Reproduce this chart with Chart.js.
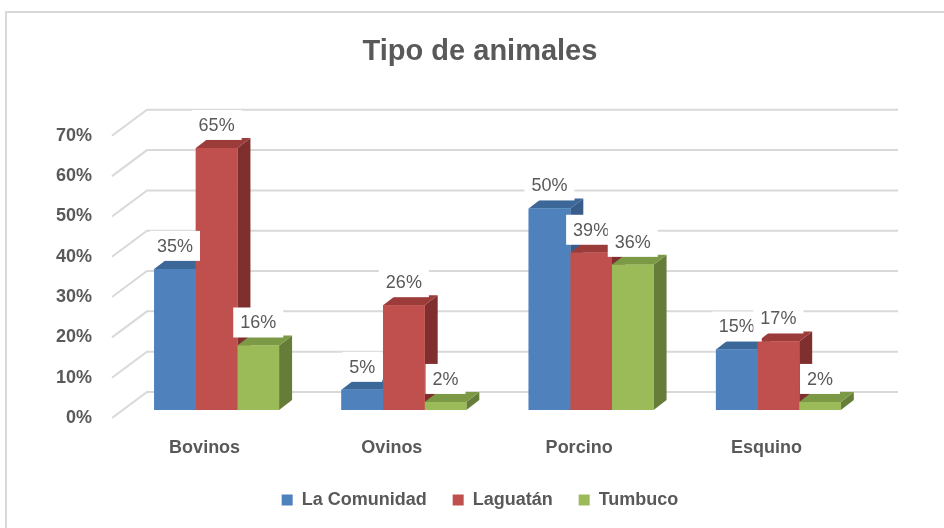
<!DOCTYPE html>
<html lang="es">
<head>
<meta charset="utf-8">
<title>Tipo de animales</title>
<script src="https://cdn.jsdelivr.net/npm/chart.js@4/dist/chart.umd.min.js"></script>
<style>
  html, body { margin: 0; padding: 0; background: #fff; }
  #wrap { position: relative; width: 944px; height: 528px; }
</style>
</head>
<body>
<div id="wrap"><canvas id="grafica" width="944" height="528"></canvas></div>
<script>
const categorias = ['Bovinos', 'Ovinos', 'Porcino', 'Esquino'];
const laComunidad = [35, 5, 50, 15];
const laguatan = [65, 26, 39, 17];
const tumbuco = [16, 2, 36, 2];
const ticksY = [0, 10, 20, 30, 40, 50, 60, 70];

const FUENTE = '"Liberation Sans", Arial, sans-serif';
const GRIS_TEXTO = '#595959';
const GRIS_LINEA = '#d9d9d9';
// desplazamiento de la profundidad 3D
const PROF_X = 13;
const PROF_Y = 10;

const series = [
  { label: 'La Comunidad', data: laComunidad, frente: '#4f81bd', arriba: '#3c6899', lado: '#385d8a' },
  { label: 'Laguatán', data: laguatan, frente: '#c0504d', arriba: '#9c3c3a', lado: '#7f302e' },
  { label: 'Tumbuco', data: tumbuco, frente: '#9bbb59', arriba: '#7c9a45', lado: '#667d39' }
];

function poligono(ctx, puntos, color) {
  ctx.beginPath();
  ctx.moveTo(puntos[0][0], puntos[0][1]);
  puntos.slice(1).forEach(([x, y]) => ctx.lineTo(x, y));
  ctx.closePath();
  ctx.fillStyle = color;
  ctx.fill();
}

const marcoPlugin = {
  id: 'marco',
  beforeDraw(chart) {
    const ctx = chart.ctx;
    ctx.save();
    ctx.fillStyle = '#fff';
    ctx.fillRect(0, 0, chart.width, chart.height);
    ctx.strokeStyle = GRIS_LINEA;
    ctx.lineWidth = 2;
    ctx.strokeRect(6, 12, chart.width + 20, chart.height + 20);
    ctx.restore();
  }
};

// pared del fondo y caras laterales / superiores de las barras
const fondoPlugin = {
  id: 'fondo3d',
  beforeDatasetsDraw(chart) {
    const { ctx, chartArea } = chart;
    const y = chart.scales.y;
    const fondoIzq = chartArea.left + 24;
    const frenteIzq = chartArea.left - 11;
    const fondoDer = chartArea.right + 26;
    ctx.save();
    ctx.strokeStyle = GRIS_LINEA;
    ctx.lineWidth = 2;
    ticksY.forEach((valor) => {
      const py = y.getPixelForValue(valor);
      ctx.beginPath();
      ctx.moveTo(frenteIzq, py + 8);
      ctx.lineTo(fondoIzq, py - 18);
      ctx.lineTo(fondoDer, py - 18);
      ctx.stroke();
    });

    // de izquierda a derecha, para que la barra siguiente tape a la anterior
    categorias.forEach((_, j) => {
      series.forEach((serie, i) => {
        const barra = chart.getDatasetMeta(i).data[j];
        if (!barra) return;
        const { x, y: tope, base, width } = barra.getProps(['x', 'y', 'base', 'width'], true);
        const izq = x - width / 2;
        const der = x + width / 2;
        poligono(ctx, [[der, tope], [der + PROF_X, tope - PROF_Y], [der + PROF_X, base - PROF_Y], [der, base]], serie.lado);
        poligono(ctx, [[izq, tope], [izq + PROF_X, tope - PROF_Y], [der + PROF_X, tope - PROF_Y], [der, tope]], serie.arriba);
        poligono(ctx, [[izq, tope], [der, tope], [der, base], [izq, base]], serie.frente);
      });
    });
    ctx.restore();
  }
};

const etiquetasPlugin = {
  id: 'etiquetas',
  afterDatasetsDraw(chart) {
    const ctx = chart.ctx;
    ctx.save();
    ctx.font = `18px ${FUENTE}`;
    ctx.textAlign = 'center';
    ctx.textBaseline = 'middle';
    chart.data.datasets.forEach((dataset, i) => {
      chart.getDatasetMeta(i).data.forEach((barra, j) => {
        const texto = `${dataset.data[j]}%`;
        const ancho = ctx.measureText(texto).width;
        const cx = barra.x;
        const cy = barra.y - 23;
        ctx.fillStyle = '#fff';
        ctx.fillRect(cx - ancho / 2 - 7, cy - 15, ancho + 14, 30);
        ctx.fillStyle = GRIS_TEXTO;
        ctx.fillText(texto, cx, cy + 1);
      });
    });
    ctx.restore();
  }
};

new Chart(document.getElementById('grafica'), {
  type: 'bar',
  data: {
    labels: categorias,
    datasets: series.map((serie) => ({
      label: serie.label,
      data: serie.data,
      backgroundColor: serie.frente,
      borderWidth: 0,
      categoryPercentage: 0.667,
      barPercentage: 1.0
    }))
  },
  options: {
    responsive: false,
    animation: false,
    layout: { padding: { left: 24, right: 8, top: 0, bottom: 9 } },
    plugins: {
      title: {
        display: true,
        text: 'Tipo de animales',
        color: GRIS_TEXTO,
        font: { family: FUENTE, size: 29, weight: 'bold' },
        padding: { top: 35, bottom: 58 }
      },
      legend: {
        position: 'bottom',
        labels: {
          color: GRIS_TEXTO,
          font: { family: FUENTE, size: 18, weight: 'bold' },
          boxWidth: 11,
          boxHeight: 11,
          padding: 26
        }
      },
      tooltip: { enabled: false }
    },
    scales: {
      x: {
        grid: { display: false, drawTicks: false },
        border: { display: false },
        ticks: {
          color: GRIS_TEXTO,
          font: { family: FUENTE, size: 18, weight: 'bold' },
          padding: 27,
          labelOffset: -12
        },
        afterFit(scale) { scale.height = 55; }
      },
      y: {
        min: 0,
        max: 70,
        grid: { display: false, drawTicks: false },
        border: { display: false },
        ticks: {
          stepSize: 10,
          color: GRIS_TEXTO,
          font: { family: FUENTE, size: 18, weight: 'bold' },
          padding: 31,
          labelOffset: 8,
          callback: (valor) => `${valor}%`
        },
        afterFit(scale) { scale.width = 99; }
      },
      derecha: {
        position: 'right',
        grid: { display: false, drawTicks: false },
        border: { display: false },
        ticks: { display: false },
        afterFit(scale) { scale.width = 64; }
      }
    }
  },
  plugins: [marcoPlugin, fondoPlugin, etiquetasPlugin]
});
</script>
</body>
</html>
